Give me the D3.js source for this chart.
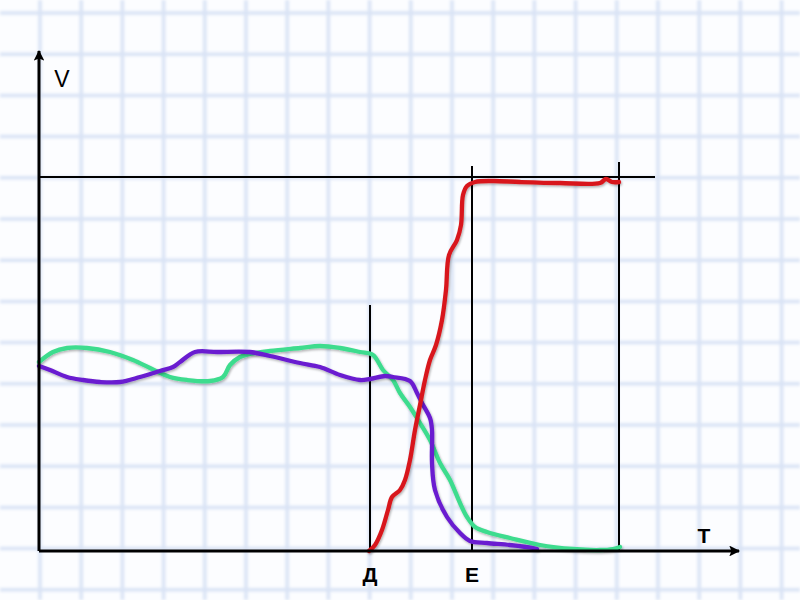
<!DOCTYPE html>
<html>
<head>
<meta charset="utf-8">
<script src="https://cdn.jsdelivr.net/npm/d3@7"></script>
<style>
  body { margin: 0; background: #fcfdff; }
  svg { display: block; }
  text { font-family: "Liberation Sans", Arial, sans-serif; font-weight: bold; font-size: 21px; fill: #000; }
</style>
</head>
<body>
<svg id="chart"></svg>
<script>
let width = 800;
let height = 600;

// curves, T on x, V on y
let greenT = [0, 1.4, 2.8, 4.8, 7.1, 9.4, 11.1, 13.1, 14.8, 17.1, 18.4, 19.1, 20.1, 21.1, 23.1, 26.1, 28.1, 30.1, 32.1, 33.4, 34.4, 35.4, 36.1, 37.1, 38.1, 39.1, 40.1, 41.1, 42.1, 42.8, 43.6, 44.8, 47.1, 50.1, 53.4, 56.1, 57.4, 58.1];
let greenV = [18.9, 19.9, 20.3, 20.3, 19.9, 19.1, 18.3, 17.4, 17.1, 17.0, 17.4, 18.6, 19.4, 19.7, 20.0, 20.3, 20.5, 20.3, 19.9, 19.6, 18.1, 17.1, 15.8, 14.4, 12.8, 11.1, 8.8, 7.1, 4.8, 3.4, 2.4, 1.9, 1.3, 0.6, 0.2, 0.1, 0.2, 0.4];

let purpleT = [0, 1.1, 2.8, 4.4, 6.1, 8.1, 10.1, 12.1, 13.4, 14.1, 15.6, 17.8, 21.1, 23.1, 26.1, 28.1, 30.1, 32.1, 33.1, 34.6, 35.4, 37.1, 37.8, 38.3, 39.1, 39.3, 39.3, 39.6, 40.8, 42.1, 43.1, 44.8, 47.1, 49.4, 49.8];
let purpleV = [18.5, 18.1, 17.4, 17.1, 16.9, 16.9, 17.4, 18.0, 18.4, 18.9, 19.9, 19.9, 19.9, 19.5, 18.8, 18.4, 17.6, 17.1, 17.2, 17.5, 17.4, 17.0, 15.8, 14.8, 13.3, 12.1, 8.8, 6.1, 3.4, 1.8, 1.0, 0.8, 0.6, 0.3, 0.2];

let redT = [33.0, 33.6, 34.3, 34.9, 35.3, 36.1, 36.6, 37.1, 37.6, 38.1, 38.6, 39.1, 39.7, 40.3, 40.7, 41.0, 41.8, 42.2, 42.4, 42.8, 43.6, 45.4, 48.1, 52.1, 56.1, 56.7, 57.3, 58.0];
let redV = [0, 0.6, 2.1, 4.1, 5.4, 6.1, 7.1, 9.1, 12.1, 14.6, 17.1, 19.1, 20.6, 23.1, 26.1, 29.6, 31.1, 32.6, 35.6, 36.5, 36.9, 37.0, 36.9, 36.8, 36.8, 37.2, 36.9, 36.9];

// guide lines: T position and top V
let markLabels = ["Д", "E", ""];
let markT = [33.1, 43.3, 58.0];
let markTop = [24.6, 38.5, 38.9];
let levelV = 37.4;
let levelEnd = 61.6;

let svg = d3.select("#chart").attr("width", width).attr("height", height);

let xScale = d3.scaleLinear().domain([0, 70]).range([39, 739]);
let yScale = d3.scaleLinear().domain([0, 50]).range([551, 51]);

let defs = svg.append("defs");
defs.append("filter").attr("id", "soft")
  .append("feGaussianBlur").attr("stdDeviation", 1.6);
let shadow = defs.append("filter").attr("id", "shadow")
  .attr("x", "-10%").attr("y", "-10%").attr("width", "120%").attr("height", "120%");
shadow.append("feDropShadow")
  .attr("dx", 1).attr("dy", 1.5).attr("stdDeviation", 1.2)
  .attr("flood-color", "#000").attr("flood-opacity", 0.3);
defs.append("marker").attr("id", "arrow")
  .attr("viewBox", "0 0 10 10").attr("refX", 9).attr("refY", 5)
  .attr("markerWidth", 6).attr("markerHeight", 3.6)
  .attr("markerUnits", "strokeWidth").attr("orient", "auto")
  .append("path").attr("d", "M0,0 L10,5 L0,10 L2,5 Z").attr("fill", "#000");

let drawGrid = () => {
  let grid = svg.append("g").attr("filter", "url(#soft)")
    .attr("stroke", "#d9e3f5").attr("stroke-width", 3.5);
  d3.range(40, width, 41.2).forEach((x) => {
    grid.append("line").attr("x1", x).attr("x2", x).attr("y1", 0).attr("y2", height);
  });
  d3.range(13, height, 41.2).forEach((y) => {
    grid.append("line").attr("y1", y).attr("y2", y).attr("x1", 0).attr("x2", width);
  });
};

let drawGuides = () => {
  svg.append("line")
    .attr("x1", xScale(0)).attr("x2", xScale(levelEnd))
    .attr("y1", yScale(levelV)).attr("y2", yScale(levelV))
    .attr("stroke", "#000").attr("stroke-width", 2);
  markT.forEach((t, i) => {
    svg.append("line")
      .attr("x1", xScale(t)).attr("x2", xScale(t))
      .attr("y1", yScale(0)).attr("y2", yScale(markTop[i]))
      .attr("stroke", "#000").attr("stroke-width", 2);
    if (markLabels[i]) {
      svg.append("text").attr("x", xScale(t)).attr("y", 582)
        .attr("text-anchor", "middle").text(markLabels[i]);
    }
  });
};

let drawCurves = () => {
  let line = d3.line()
    .x((d) => xScale(d[0]))
    .y((d) => yScale(d[1]))
    .curve(d3.curveCatmullRom.alpha(0.5));
  let series = [
    { t: greenT, v: greenV, color: "#3edc8e" },
    { t: purpleT, v: purpleV, color: "#6a1fd0" },
    { t: redT, v: redV, color: "#d8181c" },
  ];
  series.forEach((s) => {
    svg.append("path")
      .datum(s.t.map((t, i) => [t, s.v[i]]))
      .attr("d", line)
      .attr("fill", "none")
      .attr("stroke", s.color)
      .attr("stroke-width", 4.3)
      .attr("stroke-linejoin", "round")
      .attr("stroke-linecap", "round")
      .attr("filter", "url(#shadow)");
  });
};

let drawAxes = () => {
  let xAxis = d3.axisBottom(xScale).tickValues([]).tickSizeOuter(0);
  let yAxis = d3.axisLeft(yScale).tickValues([]).tickSizeOuter(0);
  let gx = svg.append("g").attr("transform", "translate(0," + yScale(0) + ")").call(xAxis);
  let gy = svg.append("g").attr("transform", "translate(" + xScale(0) + ",0)").call(yAxis);
  [gx, gy].forEach((g) => {
    g.select(".domain")
      .attr("stroke", "#000").attr("stroke-width", 3)
      .attr("marker-end", "url(#arrow)");
  });
  // draw the domains outward so the arrow heads point away from the origin
  gy.select(".domain").attr("d", "M0," + yScale(0) + "V" + yScale(50));
  gx.select(".domain").attr("d", "M" + xScale(0) + ",0H" + xScale(70));

  svg.append("text").attr("x", 62).attr("y", 87).attr("text-anchor", "middle")
    .style("font-weight", "normal").style("font-size", "23px").text("V");
  svg.append("text").attr("x", 704).attr("y", 543).attr("text-anchor", "middle").text("T");
};

drawGrid();
drawGuides();
drawCurves();
drawAxes();
</script>
</body>
</html>
